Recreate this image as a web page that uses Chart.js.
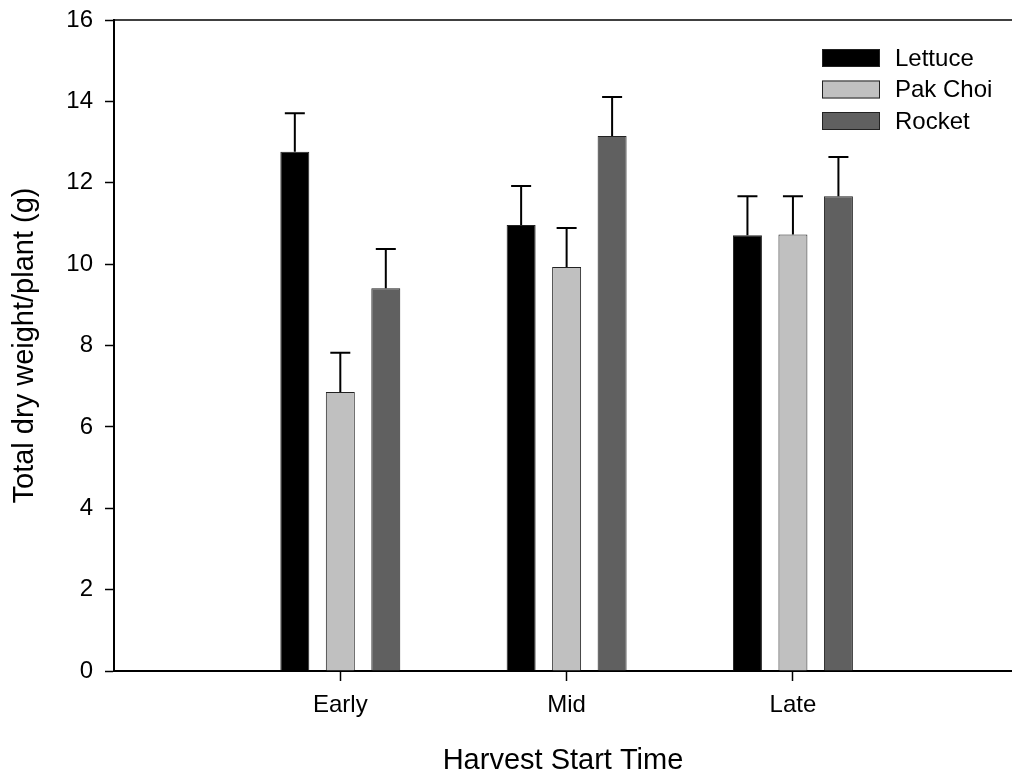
<!DOCTYPE html>
<html>
<head>
<meta charset="utf-8">
<script src="https://cdn.jsdelivr.net/npm/chart.js@4.4.1/dist/chart.umd.min.js"></script>
<style>
  body { margin: 0; background: #fff; }
  canvas { display: block; }
</style>
</head>
<body>
<canvas id="chart" width="1012" height="775"></canvas>
<script>
var categories = ["Early", "Mid", "Late"];
var positions = [1, 2, 3];
var lettuce = [12.76, 10.96, 10.71];
var lettuceErr = [0.95, 0.96, 0.96];
var pakChoi = [6.86, 9.93, 10.73];
var pakChoiErr = [0.96, 0.96, 0.94];
var rocket = [9.41, 13.15, 11.67];
var rocketErr = [0.96, 0.96, 0.96];
var yTicks = [0, 2, 4, 6, 8, 10, 12, 14, 16];

var FONT = "'Liberation Sans', Arial, sans-serif";

function points(values) {
  return values.map(function (v, i) { return { x: positions[i], y: v }; });
}

// error bars drawn on top of the bars
var errorBars = {
  id: "errorBars",
  afterDatasetsDraw: function (chart) {
    var ctx = chart.ctx;
    var yScale = chart.scales.y;
    ctx.save();
    ctx.strokeStyle = "#000";
    ctx.lineWidth = 2;
    chart.data.datasets.forEach(function (ds, di) {
      var meta = chart.getDatasetMeta(di);
      meta.data.forEach(function (bar, i) {
        var top = yScale.getPixelForValue(ds.data[i].y + ds.errors[i]);
        ctx.beginPath();
        ctx.moveTo(bar.x, bar.y);
        ctx.lineTo(bar.x, top);
        ctx.moveTo(bar.x - 10, top);
        ctx.lineTo(bar.x + 10, top);
        ctx.stroke();
      });
    });
    ctx.restore();
  }
};

// top frame line and legend box
var frameAndLegend = {
  id: "frameAndLegend",
  afterDraw: function (chart) {
    var ctx = chart.ctx;
    var area = chart.chartArea;
    ctx.save();
    ctx.strokeStyle = "#000";
    ctx.lineWidth = 1.5;
    ctx.beginPath();
    ctx.moveTo(area.left, area.top);
    ctx.lineTo(area.right, area.top);
    ctx.stroke();

    ctx.font = "24px " + FONT;
    ctx.textBaseline = "middle";
    ctx.textAlign = "left";
    chart.data.datasets.forEach(function (ds, i) {
      var y = 49 + i * 31.5;
      ctx.fillStyle = ds.backgroundColor;
      ctx.fillRect(822, y, 58, 18);
      ctx.lineWidth = 1;
      ctx.strokeStyle = "#222";
      ctx.strokeRect(822.5, y + 0.5, 57, 17);
      ctx.fillStyle = "#000";
      ctx.fillText(ds.label, 895, y + 10);
    });
    ctx.restore();
  }
};

function makeSet(label, values, errs, color) {
  return {
    label: label,
    data: points(values),
    errors: errs,
    backgroundColor: color,
    borderColor: "#222",
    borderWidth: 1,
    categoryPercentage: 0.603,
    barPercentage: 0.637
  };
}

new Chart(document.getElementById("chart"), {
  type: "bar",
  data: {
    datasets: [
      makeSet("Lettuce", lettuce, lettuceErr, "#000000"),
      makeSet("Pak Choi", pakChoi, pakChoiErr, "#c0c0c0"),
      makeSet("Rocket", rocket, rocketErr, "#606060")
    ]
  },
  options: {
    responsive: false,
    devicePixelRatio: 1,
    animation: false,
    layout: { padding: { top: 20, left: 0, right: 0, bottom: 0 } },
    plugins: {
      legend: { display: false },
      tooltip: { enabled: false }
    },
    scales: {
      x: {
        type: "linear",
        min: 0,
        max: 3.968,
        offset: false,
        afterBuildTicks: function (scale) {
          scale.ticks = positions.map(function (p) { return { value: p }; });
        },
        afterFit: function (scale) {
          scale.height = 104;
          scale.paddingLeft = 0;
          scale.paddingRight = 0;
        },
        grid: {
          offset: false,
          drawOnChartArea: false,
          tickLength: 10,
          tickColor: "#000",
          tickWidth: 1.5
        },
        border: { color: "#000", width: 2 },
        ticks: {
          color: "#000",
          font: { family: FONT, size: 24 },
          padding: 10,
          maxRotation: 0,
          callback: function (v) { return categories[positions.indexOf(v)]; }
        },
        title: {
          display: true,
          text: "Harvest Start Time",
          color: "#000",
          font: { family: FONT, size: 29, lineHeight: 1.0 },
          padding: { top: 0, bottom: 0 }
        }
      },
      y: {
        min: 0,
        max: 16,
        afterBuildTicks: function (scale) {
          scale.ticks = yTicks.map(function (v) { return { value: v }; });
        },
        afterFit: function (scale) {
          scale.width = 114;
          scale.paddingTop = 0;
          scale.paddingBottom = 0;
        },
        grid: {
          drawOnChartArea: false,
          tickLength: 9,
          tickColor: "#000",
          tickWidth: 1.5
        },
        border: { color: "#000", width: 2 },
        ticks: {
          color: "#000",
          font: { family: FONT, size: 24 },
          padding: 12
        },
        title: {
          display: true,
          text: "Total dry weight/plant (g)",
          color: "#000",
          font: { family: FONT, size: 29, lineHeight: 1.0 },
          padding: { top: 10, bottom: 0 }
        }
      }
    }
  },
  plugins: [errorBars, frameAndLegend]
});
</script>
</body>
</html>
